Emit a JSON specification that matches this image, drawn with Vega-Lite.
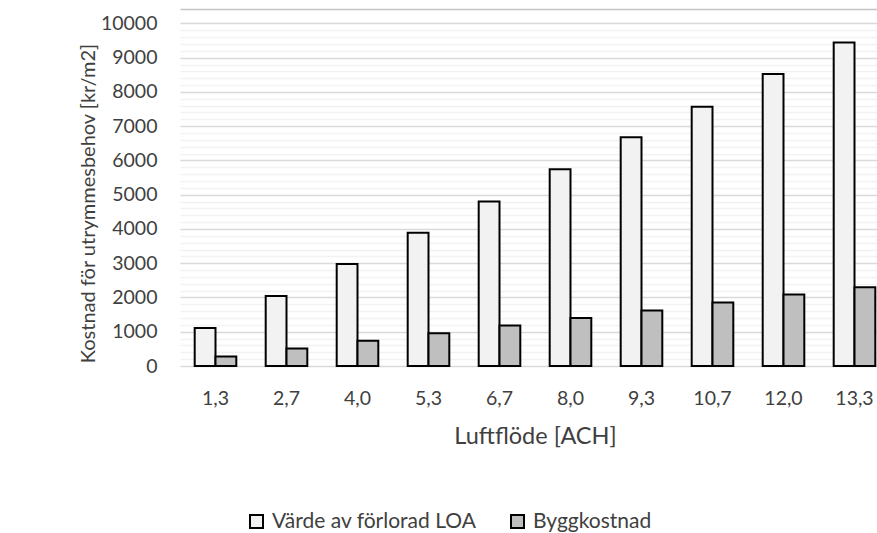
{
  "$schema": "https://vega.github.io/schema/vega-lite/v6.json",
  "autosize": {"type": "none"},
  "width": 697,
  "height": 357,
  "padding": {"left": 180, "top": 9, "right": 0, "bottom": 167},
  "background": "white",
  "config": {
    "view": {"stroke": null},
    "font": "Lato",
    "axis": {"labelFont": "Lato", "titleFont": "Lato"},
    "legend": {"labelFont": "Lato"}
  },
  "data": {
    "values": [
      {"ach": "1,3", "serie": "Värde av förlorad LOA", "kostnad": 1110},
      {"ach": "1,3", "serie": "Byggkostnad", "kostnad": 275},
      {"ach": "2,7", "serie": "Värde av förlorad LOA", "kostnad": 2040},
      {"ach": "2,7", "serie": "Byggkostnad", "kostnad": 510},
      {"ach": "4,0", "serie": "Värde av förlorad LOA", "kostnad": 2980},
      {"ach": "4,0", "serie": "Byggkostnad", "kostnad": 740},
      {"ach": "5,3", "serie": "Värde av förlorad LOA", "kostnad": 3890},
      {"ach": "5,3", "serie": "Byggkostnad", "kostnad": 955},
      {"ach": "6,7", "serie": "Värde av förlorad LOA", "kostnad": 4800},
      {"ach": "6,7", "serie": "Byggkostnad", "kostnad": 1180},
      {"ach": "8,0", "serie": "Värde av förlorad LOA", "kostnad": 5740},
      {"ach": "8,0", "serie": "Byggkostnad", "kostnad": 1400},
      {"ach": "9,3", "serie": "Värde av förlorad LOA", "kostnad": 6680},
      {"ach": "9,3", "serie": "Byggkostnad", "kostnad": 1620},
      {"ach": "10,7", "serie": "Värde av förlorad LOA", "kostnad": 7565},
      {"ach": "10,7", "serie": "Byggkostnad", "kostnad": 1850},
      {"ach": "12,0", "serie": "Värde av förlorad LOA", "kostnad": 8520},
      {"ach": "12,0", "serie": "Byggkostnad", "kostnad": 2085},
      {"ach": "13,3", "serie": "Värde av förlorad LOA", "kostnad": 9445},
      {"ach": "13,3", "serie": "Byggkostnad", "kostnad": 2300}
    ]
  },
  "mark": {"type": "bar", "stroke": "black", "strokeWidth": 2},
  "encoding": {
    "x": {
      "field": "ach",
      "type": "nominal",
      "sort": null,
      "scale": {"range": [0, 710], "paddingInner": 0.414, "paddingOuter": 0.207},
      "axis": {
        "labelAngle": 0,
        "labelFontSize": 19.5,
        "labelColor": "#404040",
        "labelPadding": 23,
        "ticks": false,
        "domain": false,
        "title": "Luftflöde [ACH]",
        "titleFontSize": 23.5,
        "titleFontWeight": "normal",
        "titleColor": "#404040",
        "titlePadding": 17
      }
    },
    "xOffset": {
      "field": "serie",
      "type": "nominal",
      "sort": ["Värde av förlorad LOA", "Byggkostnad"],
      "scale": {"paddingInner": 0, "paddingOuter": 0}
    },
    "y": {
      "field": "kostnad",
      "type": "quantitative",
      "scale": {"domain": [0, 10420], "nice": false},
      "axis": {
        "values": [0, 200, 400, 600, 800, 1000, 1200, 1400, 1600, 1800, 2000, 2200, 2400, 2600, 2800, 3000, 3200, 3400, 3600, 3800, 4000, 4200, 4400, 4600, 4800, 5000, 5200, 5400, 5600, 5800, 6000, 6200, 6400, 6600, 6800, 7000, 7200, 7400, 7600, 7800, 8000, 8200, 8400, 8600, 8800, 9000, 9200, 9400, 9600, 9800, 10000, 10420],
        "format": "d",
        "labelExpr": "datum.value % 1000 === 0 ? datum.label : ''",
        "labelOverlap": false,
        "labelFontSize": 19.5,
        "labelColor": "#404040",
        "labelPadding": 23,
        "ticks": false,
        "domain": false,
        "grid": true,
        "gridWidth": 1.5,
        "gridColor": {
          "condition": [
            {"test": "datum.value > 10000", "value": "#c4c4c4"},
            {"test": "datum.value % 1000 === 0", "value": "#d9d9d9"}
          ],
          "value": "#f2f2f2"
        },
        "title": "Kostnad för utrymmesbehov [kr/m2]",
        "titleFontSize": 20,
        "titleFontWeight": "normal",
        "titleColor": "#404040",
        "titlePadding": 2,
        "titleY": 194
      }
    },
    "fill": {
      "field": "serie",
      "type": "nominal",
      "sort": ["Värde av förlorad LOA", "Byggkostnad"],
      "scale": {"domain": ["Värde av förlorad LOA", "Byggkostnad"], "range": ["#f2f2f2", "#bfbfbf"]},
      "legend": {
        "title": null,
        "orient": "none",
        "direction": "horizontal",
        "legendX": 66,
        "legendY": 502,
        "symbolType": "square",
        "symbolSize": 169,
        "symbolStrokeColor": "black",
        "symbolStrokeWidth": 2,
        "symbolOpacity": 1,
        "labelFontSize": 21,
        "labelColor": "#404040",
        "labelLimit": 0,
        "labelOffset": 5,
        "columnPadding": 30
      }
    }
  }
}
